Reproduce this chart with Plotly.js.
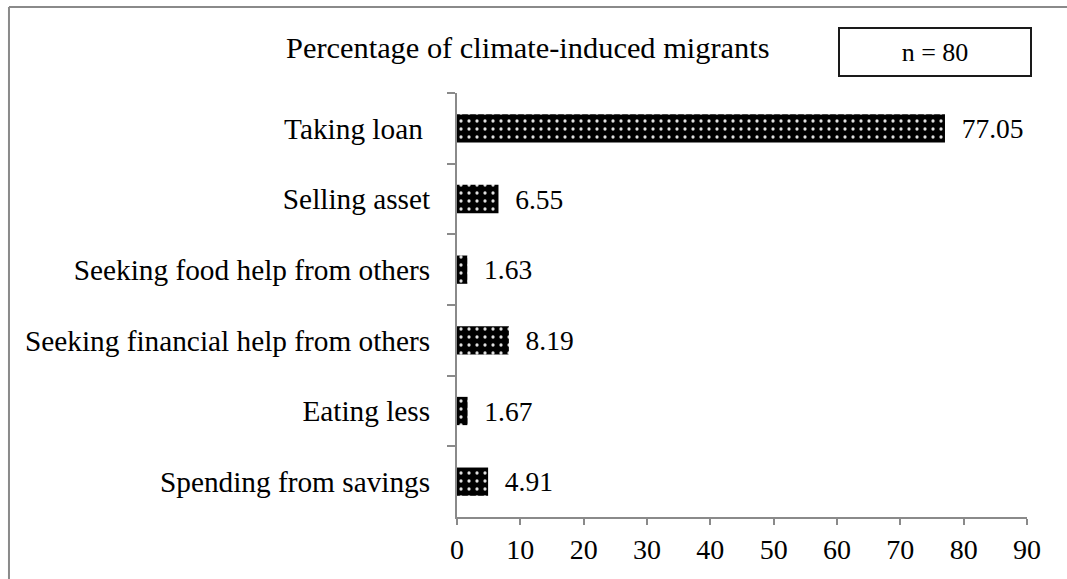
<!DOCTYPE html>
<html>
<head>
<meta charset="utf-8">
<script src="https://cdn.plot.ly/plotly-3.0.1.min.js"></script>
<style>
  html, body { margin: 0; padding: 0; background: #fff; }
  #chart { width: 1067px; height: 579px; }
</style>
</head>
<body>
<div id="chart"></div>
<script>
// Coping strategies, listed top to bottom
const strategies = [
  'Taking loan\u00a0',
  'Selling asset',
  'Seeking food help from others',
  'Seeking financial help from others',
  'Eating less',
  'Spending from savings'
];
// Share of respondents (%)
const shares = [77.05, 6.55, 1.63, 8.19, 1.67, 4.91];
const xTicks = [0, 10, 20, 30, 40, 50, 60, 70, 80, 90];
const chartTitle = 'Percentage of climate-induced migrants';
const sampleNote = 'n = 80';

const serif = 'Liberation Serif, Times New Roman, serif';
const axisGray = '#8a8a8a';

const trace = {
  type: 'bar',
  orientation: 'h',
  y: strategies,
  x: shares,
  width: 0.4,
  text: shares.map(v => '\u00a0\u00a0' + v.toFixed(2)),
  textposition: 'outside',
  constraintext: 'none',
  cliponaxis: false,
  textfont: { family: serif, size: 27.5, color: '#000' },
  marker: {
    color: '#000',
    line: { width: 0 },
    pattern: { shape: '.', bgcolor: '#000', fgcolor: '#e0e0e0', size: 8, solidity: 0.13 }
  },
  hoverinfo: 'none'
};

const layout = {
  width: 1067,
  height: 579,
  margin: { l: 457, r: 40, t: 93, b: 62 },
  paper_bgcolor: '#fff',
  plot_bgcolor: '#fff',
  showlegend: false,
  font: { family: serif, size: 29, color: '#000' },
  xaxis: {
    range: [0, 90],
    tickvals: xTicks,
    ticktext: xTicks.map(String),
    ticks: 'outside',
    ticklen: 6,
    tickwidth: 2,
    tickcolor: axisGray,
    showline: true,
    linecolor: axisGray,
    linewidth: 2,
    showgrid: false,
    zeroline: false,
    tickfont: { family: serif, size: 28, color: '#000' },
    fixedrange: true
  },
  yaxis: {
    categoryorder: 'array',
    categoryarray: strategies,
    autorange: 'reversed',
    ticks: 'outside',
    tickson: 'boundaries',
    ticklen: 8,
    tickwidth: 2,
    tickcolor: axisGray,
    showline: true,
    linecolor: axisGray,
    linewidth: 2,
    showgrid: false,
    zeroline: false,
    ticklabelstandoff: 19,
    tickfont: { family: serif, size: 29.3, color: '#000' },
    fixedrange: true
  },
  annotations: [
    {
      text: chartTitle,
      xref: 'paper', yref: 'paper',
      x: 0.1246, y: 1.106,
      xanchor: 'center', yanchor: 'middle',
      showarrow: false,
      font: { family: serif, size: 30.4, color: '#000' }
    },
    {
      text: sampleNote,
      xref: 'paper', yref: 'paper',
      x: 0.8386, y: 1.0967,
      xanchor: 'center', yanchor: 'middle',
      showarrow: false,
      width: 190,
      height: 46,
      borderpad: 0,
      bordercolor: '#1a1a1a',
      borderwidth: 2,
      bgcolor: '#fff',
      font: { family: serif, size: 26, color: '#000' }
    }
  ],
  shapes: [
    // frame: top edge and left edge
    { type: 'line', xref: 'paper', yref: 'paper', x0: -0.7860, x1: 1.0702, y0: 1.2028, y1: 1.2028,
      line: { color: axisGray, width: 2 } },
    { type: 'line', xref: 'paper', yref: 'paper', x0: -0.7860, x1: -0.7860, y0: 1.2028, y1: -0.16,
      line: { color: axisGray, width: 2 } }
  ]
};

Plotly.newPlot('chart', [trace], layout, { displayModeBar: false, staticPlot: true });
</script>
</body>
</html>
